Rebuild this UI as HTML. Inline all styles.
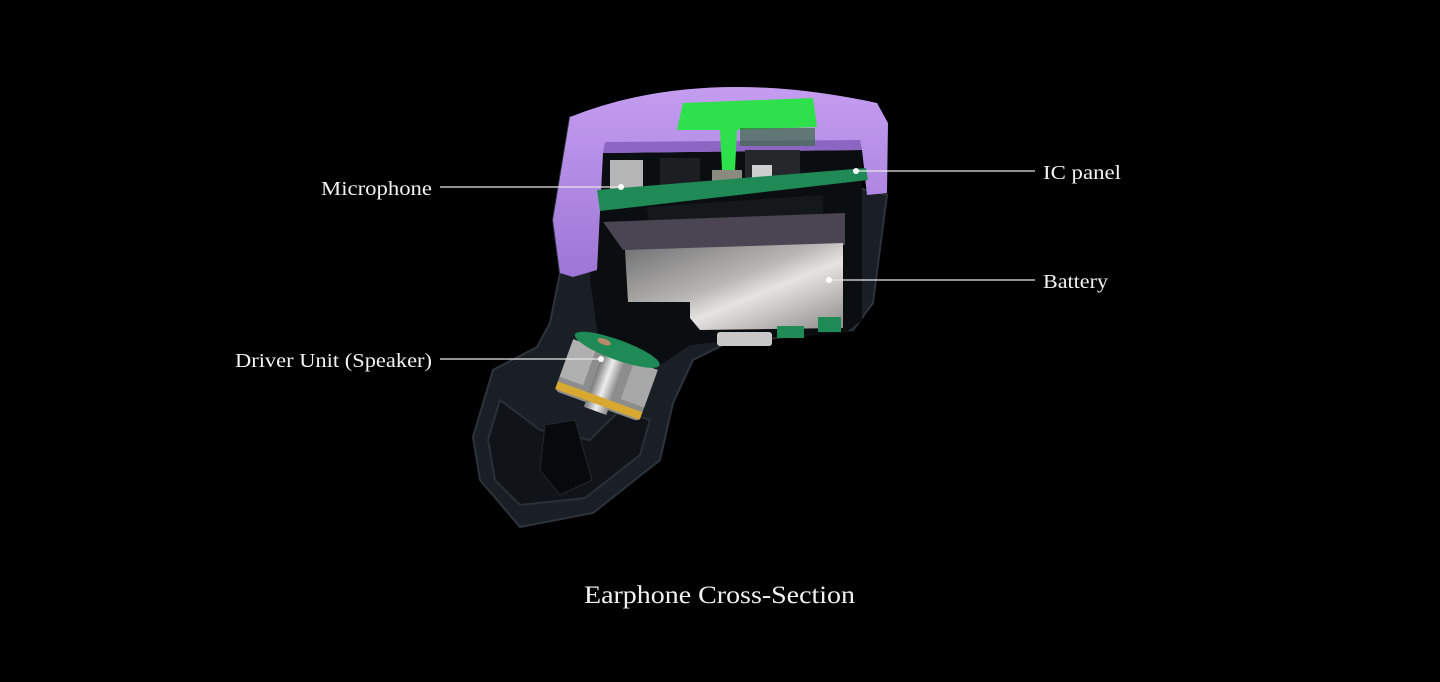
<!DOCTYPE html>
<html><head><meta charset="utf-8"><style>
html,body{margin:0;padding:0;background:#000;width:1440px;height:682px;overflow:hidden}
svg{display:block}
text{font-family:"Liberation Serif",serif;fill:#f2f2f2}
</style></head><body>
<svg width="1440" height="682" viewBox="0 0 1440 682">
<defs>
<linearGradient id="bat" x1="0" y1="0" x2="1" y2="1">
<stop offset="0" stop-color="#6e6e70"/><stop offset="0.45" stop-color="#b8b6b4"/><stop offset="0.6" stop-color="#e6e4e0"/><stop offset="1" stop-color="#8a8a8a"/></linearGradient>
<linearGradient id="pur" x1="0" y1="0" x2="0" y2="1">
<stop offset="0" stop-color="#c49df0"/><stop offset="1" stop-color="#9d76d6"/></linearGradient>
<linearGradient id="sil" x1="0" y1="0" x2="1" y2="0">
<stop offset="0" stop-color="#777"/><stop offset="0.5" stop-color="#eee"/><stop offset="1" stop-color="#888"/></linearGradient>
</defs>
<path d="M570,117 L553,220 L560,273 L550,323 L537,347 L493,370 L473,437 L480,480 L520,527 L593,513 L660,460 L673,403 L693,360 L727,343 L853,330 L873,303 L887,195 Z" fill="#1a1f25" stroke="#2c333b" stroke-width="2"/>
<path d="M500,400 L488,440 L495,480 L520,505 L585,498 L640,455 L650,420 L620,410 L590,440 L540,430 Z" fill="#101418" stroke="#2a3038" stroke-width="2"/>
<path d="M545,425 L575,420 L592,480 L560,495 L540,470 Z" fill="#07090b" stroke="#22282e"/>
<path d="M600,150 L862,150 L862,320 L845,333 L740,340 L690,345 L650,372 L600,350 L590,280 Z" fill="#0b0e11"/>
<path d="M570,117 Q700,65 877,103 L888,123 L887,193 L867,195 L862,150 L603,153 L597,270 L573,277 L560,273 L553,220 Z" fill="url(#pur)"/>
<path d="M603,153 L862,150 L860,140 L605,142 Z" fill="#8d66c4"/>
<path d="M683,103 L813,98 L817,127 L737,130 L735,170 L722,170 L720,130 L677,130 Z" fill="#2ee04c"/>
<rect x="740" y="128" width="75" height="18" fill="#3a6b45" opacity="0.7"/>
<rect x="610" y="160" width="33" height="37" fill="#b5b5b5"/>
<rect x="660" y="158" width="40" height="30" fill="#1c1f22"/>
<rect x="745" y="150" width="55" height="30" fill="#25282b"/>
<rect x="752" y="165" width="20" height="14" fill="#cfcfcf"/>
<rect x="712" y="170" width="30" height="12" fill="#8a8a80"/>
<path d="M597,190 L866,168 L868,180 L600,211 Z" fill="#1f8a55"/>
<path d="M647,207 L823,195 L823,232 L650,240 Z" fill="#15181b"/>
<path d="M603,222 L845,213 L845,245 L623,250 Z" fill="#4a4453"/>
<path d="M625,250 L843,243 L843,328 L700,330 L690,318 L690,302 L628,302 Z" fill="url(#bat)"/>
<rect x="717" y="332" width="55" height="14" rx="3" fill="#c8c8c8"/>
<rect x="777" y="326" width="27" height="12" fill="#1e8a55"/>
<rect x="818" y="317" width="23" height="15" fill="#1e8a55"/>
<g transform="translate(607,378) rotate(20)">
<rect x="-45" y="-25" width="90" height="55" rx="5" fill="#8d8d8d"/>
<rect x="-12" y="-25" width="24" height="60" fill="url(#sil)"/>
<rect x="-45" y="-25" width="25" height="40" fill="#b0b0b0"/>
<rect x="20" y="-25" width="25" height="40" fill="#a8a8a8"/>
<ellipse cx="0" cy="-30" rx="45" ry="10" fill="#1e8a55"/>
<ellipse cx="-15" cy="-33" rx="7" ry="3" fill="#b88a6a"/>
<rect x="-45" y="20" width="90" height="8" fill="#d8a830"/>
</g>
<g stroke="#e8e8e8" stroke-width="1.3">
<line x1="440" y1="187" x2="620" y2="187"/>
<line x1="440" y1="359" x2="600" y2="359"/>
<line x1="857" y1="171" x2="1035" y2="171"/>
<line x1="830" y1="280" x2="1035" y2="280"/>
</g>
<g fill="#fff">
<circle cx="621" cy="187" r="3"/><circle cx="601" cy="359" r="3"/>
<circle cx="856" cy="171" r="3"/><circle cx="829" cy="280" r="3"/>
</g>
<text x="321" y="195" font-size="20" textLength="111" lengthAdjust="spacingAndGlyphs">Microphone</text>
<text x="235" y="367" font-size="20" textLength="197" lengthAdjust="spacingAndGlyphs">Driver Unit (Speaker)</text>
<text x="1043" y="179" font-size="20" textLength="78" lengthAdjust="spacingAndGlyphs">IC panel</text>
<text x="1043" y="288" font-size="20" textLength="65" lengthAdjust="spacingAndGlyphs">Battery</text>
<text x="584" y="603" font-size="25" textLength="271" lengthAdjust="spacingAndGlyphs">Earphone Cross-Section</text>
</svg>
</body></html>
